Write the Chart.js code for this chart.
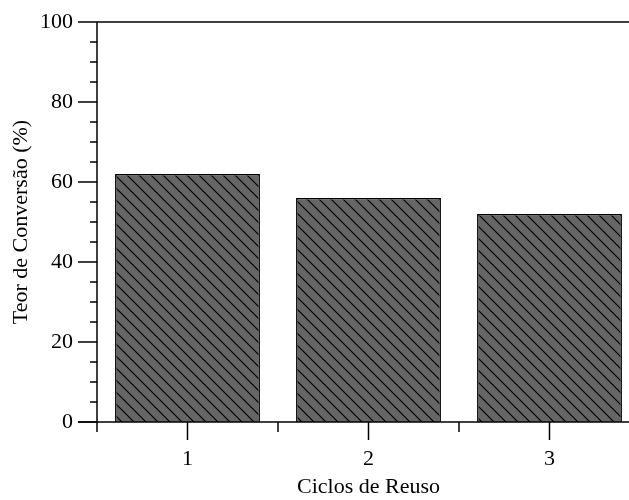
<!DOCTYPE html>
<html>
<head>
<meta charset="utf-8">
<script src="https://cdn.jsdelivr.net/npm/chart.js@4.4.0/dist/chart.umd.min.js"></script>
<style>
    html, body { margin: 0; padding: 0; background: #fff; overflow: hidden; }
    #wrap { width: 660px; height: 500px; }
</style>
</head>
<body>
<div id="wrap"><canvas id="reuse-chart" width="660" height="500"></canvas></div>
<script>
const ciclos = ['1', '2', '3'];
const conversao = [62, 56, 52];
const yMajorTicks = [0, 20, 40, 60, 80, 100];
const yMinorStep = 5;

const serif = "'Liberation Serif', 'Times New Roman', serif";

// hatch fill: grey with black diagonal lines
const makeHatch = (ctx) => {
    const s = 12;
    const tile = document.createElement('canvas');
    tile.width = s;
    tile.height = s;
    const t = tile.getContext('2d');
    t.fillStyle = '#666666';
    t.fillRect(0, 0, s, s);
    t.strokeStyle = '#000';
    t.lineWidth = 1.2;
    for (let k = -1; k <= 1; k++) {
        t.beginPath();
        t.moveTo(-1, -1 + k * s);
        t.lineTo(s + 1, s + 1 + k * s);
        t.stroke();
    }
    return ctx.createPattern(tile, 'repeat');
};

const axesFrame = {
    id: 'axesFrame',
    afterDraw(chart) {
        const {ctx, chartArea: a, scales: {x, y}} = chart;
        ctx.save();
        ctx.strokeStyle = '#000';
        ctx.lineWidth = 1.5;
        const line = (x1, y1, x2, y2) => {
            ctx.beginPath();
            ctx.moveTo(x1, y1);
            ctx.lineTo(x2, y2);
            ctx.stroke();
        };
        line(a.left, a.top, a.left, a.bottom);
        line(a.left, a.top, a.right, a.top);
        line(a.left - 19, a.bottom, a.right, a.bottom);

        for (let v = 0; v <= 100; v += yMinorStep) {
            const py = y.getPixelForValue(v);
            const len = yMajorTicks.includes(v) ? 19 : 7;
            line(a.left - len, py, a.left, py);
        }
        ciclos.forEach((c, i) => {
            const px = x.getPixelForValue(i);
            line(px, a.bottom, px, a.bottom + 18);
        });
        for (let i = 0; i <= ciclos.length; i++) {
            const px = x.getPixelForValue(i - 0.5);
            line(px, a.bottom, px, a.bottom + 10);
        }
        ctx.restore();
    }
};

const canvas = document.getElementById('reuse-chart');
const hatch = makeHatch(canvas.getContext('2d'));

new Chart(canvas, {
    type: 'bar',
    data: {
        labels: ciclos,
        datasets: [{
            label: 'Teor de Conversão',
            data: conversao,
            backgroundColor: hatch,
            borderColor: '#000',
            borderWidth: 1.5,
            categoryPercentage: 0.8,
            barPercentage: 1.0
        }]
    },
    options: {
        responsive: false,
        animation: false,
        devicePixelRatio: 1,
        layout: {
            padding: {top: 22, right: 20, left: 0, bottom: 0}
        },
        plugins: {
            legend: {display: false},
            tooltip: {enabled: false}
        },
        scales: {
            x: {
                grid: {display: false, drawTicks: true, tickLength: 18},
                border: {display: false},
                ticks: {
                    color: '#000',
                    padding: 6,
                    font: {family: serif, size: 22}
                },
                title: {
                    display: true,
                    text: 'Ciclos de Reuso',
                    color: '#000',
                    padding: {top: 0, bottom: 0},
                    font: {family: serif, size: 22}
                },
                afterFit(scale) {
                    scale.height = 78;
                }
            },
            y: {
                min: 0,
                max: 100,
                grid: {display: false, drawTicks: true, tickLength: 19},
                border: {display: false},
                ticks: {
                    stepSize: 20,
                    color: '#000',
                    padding: 5,
                    font: {family: serif, size: 22}
                },
                title: {
                    display: true,
                    text: 'Teor de Conversão (%)',
                    color: '#000',
                    padding: {top: 8, bottom: 0},
                    font: {family: serif, size: 22}
                },
                afterFit(scale) {
                    scale.width = 97;
                }
            }
        }
    },
    plugins: [axesFrame]
});
</script>
</body>
</html>
